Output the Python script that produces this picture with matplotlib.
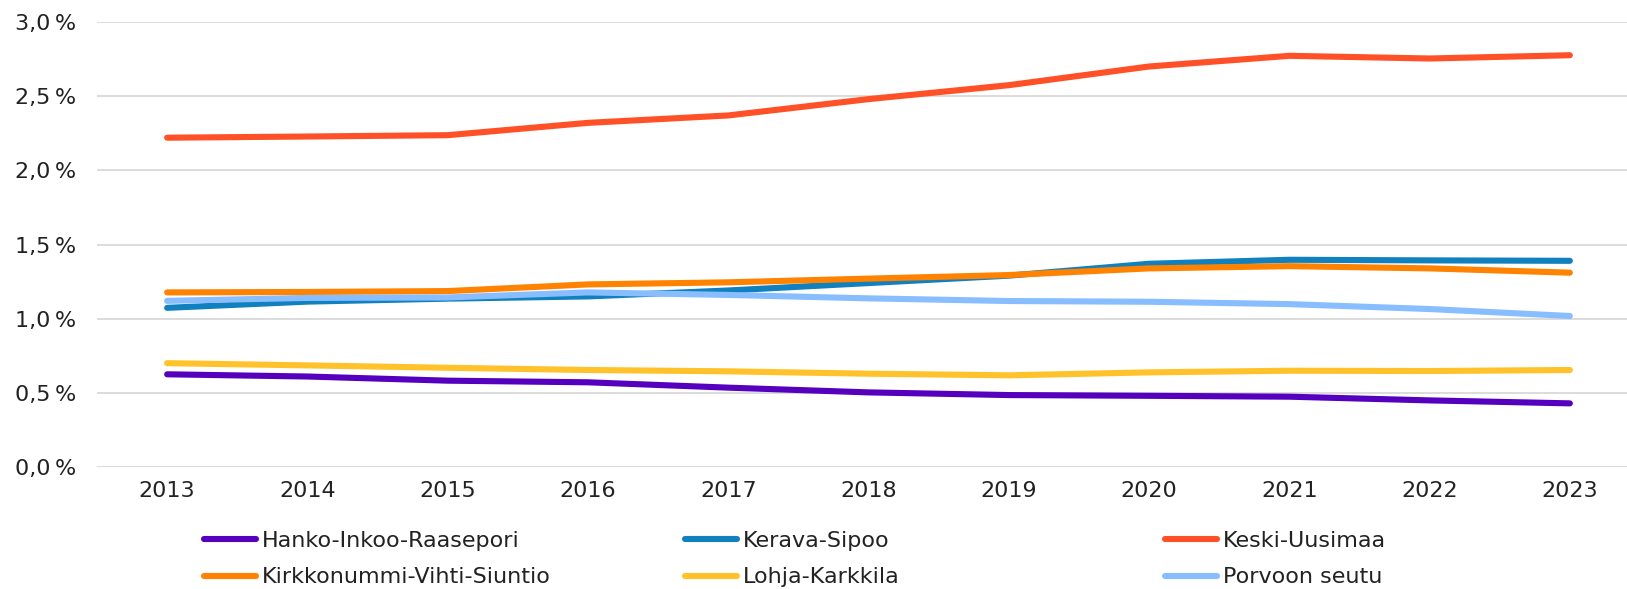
import numpy as np
import matplotlib
matplotlib.use("Agg")
import matplotlib.pyplot as plt
from matplotlib.ticker import FuncFormatter, MultipleLocator

plt.rcParams["font.family"] = ["DejaVu Sans"]

years = [2013, 2014, 2015, 2016, 2017, 2018, 2019, 2020, 2021, 2022, 2023]

hanko = [0.625, 0.61, 0.582, 0.571, 0.535, 0.503, 0.485, 0.48, 0.474, 0.449, 0.429]
kerava = [1.073, 1.115, 1.135, 1.15, 1.19, 1.24, 1.29, 1.37, 1.397, 1.393, 1.39]
keski = [2.22, 2.228, 2.237, 2.32, 2.37, 2.48, 2.574, 2.70, 2.772, 2.754, 2.776]
kirkko = [1.177, 1.18, 1.186, 1.231, 1.245, 1.27, 1.294, 1.339, 1.354, 1.339, 1.31]
lohja = [0.70, 0.685, 0.669, 0.654, 0.645, 0.629, 0.618, 0.638, 0.649, 0.647, 0.654]
porvoo = [1.12, 1.14, 1.143, 1.177, 1.16, 1.137, 1.119, 1.114, 1.098, 1.065, 1.018]

names = ["Hanko-Inkoo-Raasepori", "Kerava-Sipoo", "Keski-Uusimaa",
         "Kirkkonummi-Vihti-Siuntio", "Lohja-Karkkila", "Porvoon seutu"]
series = [hanko, kerava, keski, kirkko, lohja, porvoo]
colors = ["#5500BE", "#1180BE", "#FF5028", "#FF8200", "#FFC22A", "#88BEFF"]

W, H = 1627, 589
fig = plt.figure(figsize=(W / 100, H / 100), dpi=100)
# axes runs a bit past the right edge, like the original
ax = fig.add_axes([97 / W, 1 - 467 / H, (1640 - 97) / W, (467 - 22) / H])

x = np.arange(len(years))
handles = []
for vals, name, c in zip(series, names, colors):
    (ln,) = ax.plot(x, vals, color=c, lw=4.4, solid_capstyle="round",
                    solid_joinstyle="round", label=name)
    handles.append(ln)

ax.set_xlim(-0.5, len(years) - 0.5)
ax.set_ylim(0, 3.0)
ax.yaxis.set_major_locator(MultipleLocator(0.5))
ax.yaxis.set_major_formatter(
    FuncFormatter(lambda v, p: f"{v:.1f}".replace(".", ",") + "\u2009%"))
ax.set_xticks(x)
ax.set_xticklabels([str(y) for y in years])

ax.grid(axis="y", color="#D9D9D9", lw=1.3)
ax.set_axisbelow(True)
for s in ax.spines.values():
    s.set_visible(False)
ax.tick_params(axis="both", length=0, labelsize=16, colors="#222222")
ax.tick_params(axis="y", pad=15)
ax.tick_params(axis="x", pad=10)

# legend: 3 fixed columns, two rows
col_x = [204, 685, 1165]
for i, cx in enumerate(col_x):
    hs = [handles[i], handles[i + 3]]
    fig.legend(hs, [h.get_label() for h in hs], loc="upper left",
               bbox_to_anchor=(cx / W, 1 - 531 / H), frameon=False,
               fontsize=16, handlelength=2.35, handletextpad=0.25,
               labelspacing=0.74, borderpad=0, borderaxespad=0,
               labelcolor="#222222")

fig.savefig("out.png", dpi=100)
